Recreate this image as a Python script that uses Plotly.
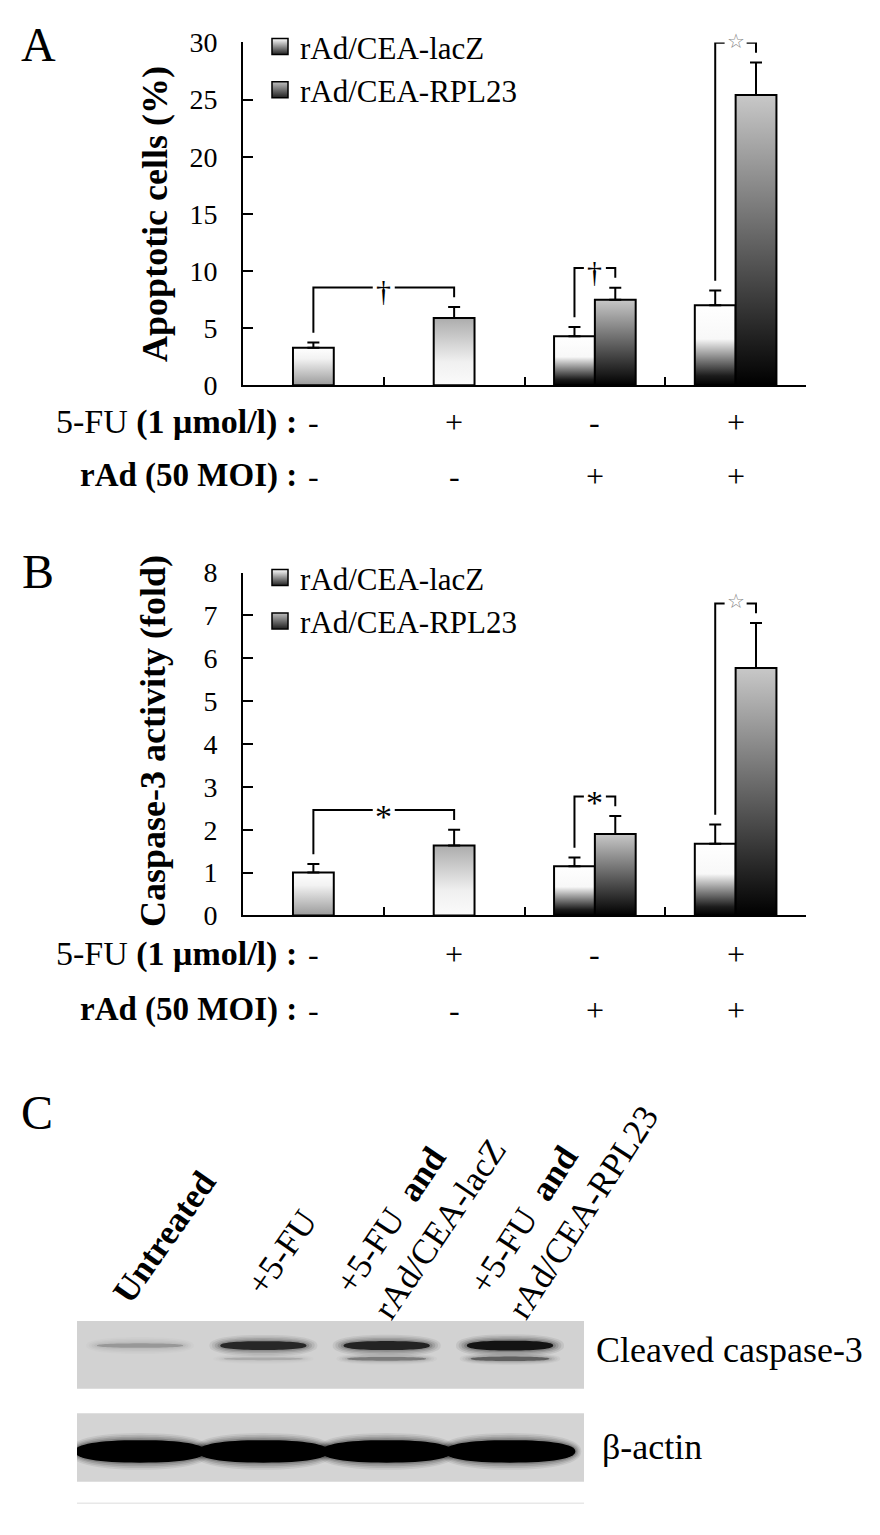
import math
import plotly.graph_objects as go

W, H = 880, 1535
FONT = 'Liberation Serif, Times New Roman, serif'

# ---- data -------------------------------------------------------------
fu_signs = ['-', '+', '-', '+']
rad_signs = ['-', '-', '+', '+']
series_names = ['rAd/CEA-lacZ', 'rAd/CEA-RPL23']

# panel A: apoptotic cells (%)
apo_single = [3.3, 5.9]          # untreated, 5-FU alone
apo_single_err = [0.45, 0.95]
apo_lacz = [4.3, 7.0]            # rAd alone, 5-FU + rAd
apo_lacz_err = [0.8, 1.3]
apo_rpl = [7.5, 25.4]
apo_rpl_err = [1.05, 2.85]
apo_marks = ['†', '†', '☆']

# panel B: caspase-3 activity (fold)
casp_single = [1.0, 1.63]
casp_single_err = [0.2, 0.37]
casp_lacz = [1.15, 1.67]
casp_lacz_err = [0.2, 0.45]
casp_rpl = [1.9, 5.77]
casp_rpl_err = [0.42, 1.05]
casp_marks = ['*', '*', '☆']

# panel C: western blot band intensity (0-1)
lane_labels = ['<b>Untreated</b>',
               '+5-FU',
               '+5-FU\u00a0\u00a0<b>and</b><br>rAd/CEA-lacZ',
               '+5-FU\u00a0\u00a0<b>and</b><br>rAd/CEA-RPL23']
cleaved_upper = [0.22, 0.85, 0.88, 1.0]
cleaved_lower = [0.0, 0.18, 0.45, 0.62]
actin_band = [1.0, 1.0, 1.0, 1.0]

# ---- style ------------------------------------------------------------
BW = 0.29      # bar width (category units)
OFF = 0.145    # offset of paired bars
SINGLE_SCALES = [[[0, '#9a9a9a'], [0.7, '#f2f2f2'], [1, '#ffffff']],
                 [[0, '#fbfbfb'], [0.35, '#f0f0f0'], [1, '#acacac']]]
LACZ_SCALE = [[0, '#000000'], [0.12, '#1c1c1c'], [0.58, '#f8f8f8'], [1, '#ffffff']]
RPL_SCALE = [[0, '#000000'], [1, '#c8c8c8']]

XDOM = [243 / W, 806 / W]


def py(px):
    return 1 - px / H


def px_x(px):
    return px / W


def note(text, x, y, size, angle=0, xanchor='center', yanchor='middle', **kw):
    fig.add_annotation(x=px_x(x), y=py(y), xref='paper', yref='paper', text=text,
                       textangle=angle, xanchor=xanchor, yanchor=yanchor,
                       showarrow=False, font=dict(family=FONT, size=size, color='black'),
                       **kw)


fig = go.Figure()


def draw_panel(n, single, single_err, lacz, lacz_err, rpl, rpl_err, marks, ydom, ymax):
    xa = 'x' if n == 1 else 'x%d' % n
    ya = 'y' if n == 1 else 'y%d' % n
    unit_y = (ydom[1] - ydom[0]) * H / ymax        # px per data unit
    unit_x = (XDOM[1] - XDOM[0]) * W / 4.0

    bars = []
    for i in range(2):
        bars.append((i, single[i], single_err[i], SINGLE_SCALES[i]))
    for j in range(2):
        g = j + 2
        bars.append((g - OFF, lacz[j], lacz_err[j], LACZ_SCALE))
        bars.append((g + OFF, rpl[j], rpl_err[j], RPL_SCALE))

    for xc, v, e, sc in bars:
        x0, x1 = xc - BW / 2, xc + BW / 2
        fig.add_trace(go.Scatter(
            x=[x0, x0, x1, x1, x0], y=[0, v, v, 0, 0], mode='lines',
            fill='toself', fillgradient=dict(type='vertical', colorscale=sc),
            line=dict(color='black', width=2),
            xaxis=xa, yaxis=ya, showlegend=False, hoverinfo='skip'))

    fig.add_trace(go.Scatter(
        x=[b[0] for b in bars], y=[b[1] for b in bars], mode='markers',
        marker=dict(size=1, color='rgba(0,0,0,0)'),
        error_y=dict(type='data', array=[b[2] for b in bars],
                     arrayminus=[0] * len(bars), symmetric=False,
                     color='black', thickness=2, width=6),
        xaxis=xa, yaxis=ya, showlegend=False, hoverinfo='skip'))

    # significance brackets
    gap = 10 / unit_y
    rise = 20 / unit_y
    hole = 11 / unit_x
    for k, (a, b) in enumerate([(0, 1), (2, 3), (4, 5)]):
        xl, xr = bars[a][0], bars[b][0]
        tl = bars[a][1] + bars[a][2]
        tr = bars[b][1] + bars[b][2]
        top = max(tl, tr) + rise
        xm = (xl + xr) / 2
        fig.add_trace(go.Scatter(
            x=[xl, xl, xm - hole, None, xm + hole, xr, xr],
            y=[tl + gap, top, top, None, top, top, tr + gap],
            mode='lines', line=dict(color='black', width=2),
            xaxis=xa, yaxis=ya, showlegend=False, hoverinfo='skip'))
        m = marks[k]
        if m == '☆':
            f = dict(family='DejaVu Sans', size=20, color='#8a8a8a')
            ys = 2
        elif m == '†':
            f = dict(family=FONT, size=30, color='black')
            ys = -3
        else:
            f = dict(family=FONT, size=34, color='black')
            ys = -6
        fig.add_annotation(x=xm, y=top, xref=xa, yref=ya, text=m, showarrow=False,
                           xanchor='center', yanchor='middle', font=f, yshift=ys)

    # legend entries
    leg = 'legend' if n == 1 else 'legend%d' % n
    for name, top_col in zip(series_names, ['#ffffff', '#c0c0c0']):
        fig.add_trace(go.Scatter(
            x=[None], y=[None], mode='markers', name=name, legend=leg,
            marker=dict(symbol='square', size=16, color=top_col,
                        gradient=dict(type='vertical', color='#202020'),
                        line=dict(color='black', width=1.5)),
            xaxis=xa, yaxis=ya))

    axis_common = dict(showline=True, linecolor='black', linewidth=2, showgrid=False,
                       zeroline=False, ticks='inside', tickcolor='black', tickwidth=2)
    fig.update_layout(**{
        ('xaxis' if n == 1 else 'xaxis%d' % n): dict(
            domain=XDOM, range=[-0.5, 3.5], tickvals=[0.5, 1.5, 2.5, 3.5],
            ticklen=8, showticklabels=False, anchor=ya, **axis_common),
        ('yaxis' if n == 1 else 'yaxis%d' % n): dict(
            domain=ydom, range=[0, ymax], dtick=5 if ymax == 30 else 1,
            ticklen=10, anchor=xa, ticklabelstandoff=18,
            tickfont=dict(family=FONT, size=28, color='black'), **axis_common),
    })


ydomA = [py(378), py(28)]
ydomB = [py(919), py(569)]
draw_panel(1, apo_single, apo_single_err, apo_lacz, apo_lacz_err, apo_rpl, apo_rpl_err,
           apo_marks, ydomA, 30)
draw_panel(2, casp_single, casp_single_err, casp_lacz, casp_lacz_err, casp_rpl, casp_rpl_err,
           casp_marks, ydomB, 8)

legend_style = dict(font=dict(family=FONT, size=31, color='black'), bgcolor='rgba(0,0,0,0)',
                    xanchor='left', yanchor='top', tracegroupgap=0, itemsizing='trace')
fig.update_layout(legend=dict(x=px_x(260), y=py(5), **legend_style),
                  legend2=dict(x=px_x(260), y=py(547), **legend_style))

# axis titles, panel letters
note('<b>Apoptotic cells (%)</b>', 155, 203, 36, angle=-90)
note('<b>Caspase-3 activity (fold)</b>', 153, 741, 36, angle=-90)
for txt, x, y in [('A', 38, 30), ('B', 38, 568), ('C', 37, 1120)]:
    note(txt, x, y, 48)

# treatment rows under panels A and B
for xa, y1, y2 in [('x', 415, 470), ('x2', 958, 1015)]:
    note('5-FU <b>(1 μmol/l) :</b>', 299, y1, 34, xanchor='right')
    note('<b>rAd (50 MOI) :</b>', 299, y2, 33, xanchor='right')
    for g in range(4):
        for sgn, yy in [(fu_signs[g], y1), (rad_signs[g], y2)]:
            fig.add_annotation(x=g, y=py(yy), xref=xa, yref='paper', text=sgn,
                               xanchor='center', yanchor='middle', showarrow=False,
                               font=dict(family=FONT, size=32, color='black'))

# ---- panel C: western blot ---------------------------------------------
X3DOM = [77 / W, 584 / W]
Y3DOM = [py(1497), py(1333)]
fig.update_layout(
    xaxis3=dict(domain=X3DOM, range=[0.489, 4.6], visible=False, anchor='y3'),
    yaxis3=dict(domain=Y3DOM, range=[0, 164], visible=False, anchor='x3'))

shapes = []
for top, bot, col in [(1333, 1402, '#d2d2d2'), (1427, 1497, '#d4d4d4')]:
    shapes.append(dict(type='rect', xref='paper', yref='paper', x0=X3DOM[0], x1=X3DOM[1],
                       y0=py(bot), y1=py(top), fillcolor=col, line=dict(width=0),
                       layer='below'))
shapes.append(dict(type='line', xref='paper', yref='paper', x0=X3DOM[0], x1=X3DOM[1],
                   y0=py(1519), y1=py(1519), line=dict(color='#e8e8e8', width=1.5)))


def blob_path(xc, yc, a, b, n=3.0, k=64):
    pts = []
    for i in range(k):
        t = 2 * math.pi * i / k
        c, s = math.cos(t), math.sin(t)
        x = xc + a * math.copysign(abs(c) ** (2 / n), c)
        y = yc + b * math.copysign(abs(s) ** (2 / n), s)
        pts.append('%.4f,%.3f' % (x, y))
    return 'M' + ' L'.join(pts) + ' Z'


def add_band(lane, yc, a, b, alpha, n, dx=0.022, dy=1.6, core=0.85):
    # soft edge: a few widening layers of low opacity under a dense core
    for k, frac in [(4, 0.07), (3, 0.09), (2, 0.12), (1, 0.16), (0, core)]:
        shapes.append(dict(type='path', xref='x3', yref='y3',
                           path=blob_path(lane, yc, a + dx * k, b + dy * k, n),
                           fillcolor='rgba(0,0,0,%.3f)' % (alpha * frac),
                           line=dict(width=0)))


for i in range(4):
    lane = i + 1
    if cleaved_upper[i] > 0:
        add_band(lane, 139, 0.35, (3 + 7 * cleaved_upper[i]) / 2, cleaved_upper[i], 2.4)
    if cleaved_lower[i] > 0:
        add_band(lane, 125.5, 0.32, (2 + 4 * cleaved_lower[i]) / 2, cleaved_lower[i] * 0.8,
                 2.4, dy=1.0)
    add_band(lane, 31, 0.53, 11.5, actin_band[i], 2.3, dx=0.012, dy=1.8, core=1.0)
fig.update_layout(shapes=shapes)

note('Cleaved caspase-3', 594, 1363, 36, xanchor='left')
note('β-actin', 600, 1462, 36, xanchor='left')

for txt, (x, y), ang in zip(lane_labels,
                            [(165, 1247), (282, 1263), (421, 1226), (564, 1210)],
                            [-55, -55, -56, -57]):
    note(txt, x, y, 35, angle=ang, align='left')

fig.update_layout(width=W, height=H, margin=dict(l=0, r=0, t=0, b=0),
                  paper_bgcolor='white', plot_bgcolor='rgba(0,0,0,0)',
                  font=dict(family=FONT, color='black'))

fig.write_html('out.html', config={'displayModeBar': False},
               post_script="document.body.style.margin='0';")
